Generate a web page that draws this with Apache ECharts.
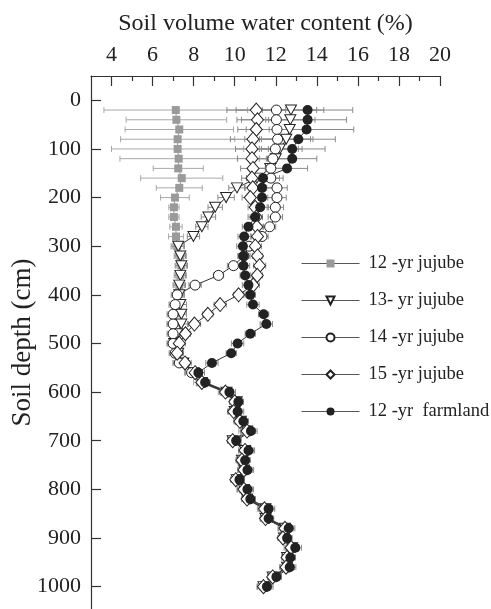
<!DOCTYPE html>
<html><head><meta charset="utf-8">
<script src="https://cdn.jsdelivr.net/npm/echarts@6/dist/echarts.min.js"></script>
<style>html,body{margin:0;padding:0;background:#fff}#c{width:491px;height:609px}</style>
</head><body><div id="c"></div>
<script>
// Soil depth (cm) of each sample
const depths = [20,40,60,80,100,120,140,160,180,200,220,240,260,280,300,320,340,360,380,400,
  420,440,460,480,500,520,540,560,580,600,620,640,660,680,700,720,740,760,780,800,
  820,840,860,880,900,920,940,960,980,1000];
const xTickLabels = [4,6,8,10,12,14,16,18,20];
const xMinorTicks = [5,7,9,11,13,15,17,19];
const yTickLabels = [0,100,200,300,400,500,600,700,800,900,1000];
const seriesNames = ['12 -yr jujube','13- yr jujube','14 -yr jujube','15 -yr jujube','12 -yr  farmland'];

// Soil volume water content (%)
const jujube12 = [7.13,7.16,7.30,7.22,7.22,7.27,7.25,7.42,7.30,7.09,7.04,7.04,7.14,7.14,7.20,7.35,7.40,7.35,7.30,7.20,
  7.10,7.00,7.00,7.00,7.00,7.10,7.30,7.90,8.30,9.50,10.00,10.00,10.20,10.50,10.00,10.50,10.30,10.50,10.10,10.40,
  10.60,11.40,11.50,12.40,12.40,12.70,12.60,12.50,11.90,11.40];
const jujube13 = [12.74,12.71,12.68,12.51,12.20,12.00,11.73,11.08,10.11,9.58,9.05,8.72,8.40,7.99,7.25,7.35,7.40,7.35,7.30,7.30,
  7.35,7.40,7.40,7.20,7.05,7.25,7.50,8.00,8.40,9.60,10.10,10.00,10.30,10.60,9.90,10.50,10.35,10.45,10.10,10.45,
  10.60,11.50,11.50,12.45,12.40,12.80,12.55,12.55,11.85,11.40];
const jujube14 = [12.03,12.03,12.06,12.09,11.98,11.86,11.76,11.76,12.06,12.06,11.98,11.98,11.70,11.33,10.70,10.45,9.94,9.21,8.07,7.20,
  7.10,7.00,7.00,7.00,7.00,7.10,7.30,7.90,8.50,9.65,10.10,10.05,10.35,10.70,10.00,10.60,10.45,10.55,10.15,10.55,
  10.70,11.55,11.60,12.55,12.50,12.85,12.65,12.60,11.95,11.50];
const jujube15 = [11.05,11.11,11.05,10.89,10.84,10.84,10.89,10.84,10.88,10.76,11.00,11.05,11.08,11.11,11.00,11.11,11.21,11.10,10.90,10.19,
  9.29,8.69,8.04,7.60,7.30,7.20,7.58,8.07,8.40,9.55,10.00,9.95,10.25,10.60,9.90,10.50,10.35,10.45,10.05,10.45,
  10.60,11.45,11.50,12.45,12.35,12.75,12.55,12.50,11.85,11.40];
const farmland12 = [13.55,13.55,13.50,13.10,12.80,12.80,12.55,11.38,11.33,11.33,11.24,11.00,10.67,10.46,10.40,10.43,10.43,10.51,10.67,10.76,
  10.89,11.41,11.54,10.76,10.14,9.83,8.89,8.23,8.56,9.74,10.18,10.14,10.42,10.79,10.07,10.67,10.51,10.62,10.23,10.62,
  10.76,11.65,11.65,12.63,12.55,12.95,12.71,12.68,12.03,11.57];

// Standard deviations (error bars)
const errJujube12 = [3.50,2.45,2.64,2.78,3.22,2.86,1.22,2.00,1.12,0.70,0.25,0.25,0.30,0.36,0.30,0.30,0.25,0.30,0.25,0.30,
  0.25,0.30,0.25,0.30,0.25,0.30,0.30,0.35,0.30,0.30,0.25,0.30,0.25,0.30,0.25,0.30,0.25,0.30,0.25,0.30,
  0.25,0.30,0.25,0.30,0.25,0.30,0.25,0.30,0.25,0.30];
const errJujube13 = [1.60,1.20,1.00,1.30,0.90,0.80,0.70,0.50,0.40,0.40,0.35,0.35,0.30,0.30,0.30,0.25,0.30,0.25,0.30,0.25,
  0.30,0.25,0.30,0.25,0.30,0.25,0.30,0.30,0.25,0.30,0.25,0.30,0.25,0.30,0.25,0.30,0.25,0.30,0.25,0.30,
  0.25,0.30,0.25,0.30,0.25,0.30,0.25,0.30,0.25,0.30];
const errJujube14 = [1.96,1.70,1.50,1.60,1.30,1.10,0.90,0.60,0.50,0.45,0.40,0.35,0.30,0.30,0.30,0.30,0.30,0.25,0.30,0.25,
  0.30,0.25,0.30,0.25,0.30,0.25,0.30,0.30,0.25,0.30,0.25,0.30,0.25,0.30,0.25,0.30,0.25,0.30,0.25,0.30,
  0.25,0.30,0.25,0.30,0.25,0.30,0.25,0.30,0.25,0.30];
const errJujube15 = [1.43,1.00,0.90,1.10,0.80,0.70,0.60,0.50,0.40,0.40,0.35,0.30,0.30,0.30,0.30,0.25,0.30,0.25,0.30,0.25,
  0.30,0.25,0.30,0.25,0.30,0.25,0.30,0.30,0.25,0.30,0.25,0.30,0.25,0.30,0.25,0.30,0.25,0.30,0.25,0.30,
  0.25,0.30,0.25,0.30,0.25,0.30,0.25,0.30,0.25,0.30];
const errFarmland12 = [2.20,1.90,2.30,1.80,1.60,1.20,1.00,0.80,0.60,0.50,0.40,0.35,0.30,0.30,0.30,0.25,0.30,0.25,0.30,0.25,
  0.30,0.25,0.30,0.25,0.30,0.25,0.30,0.30,0.25,0.30,0.25,0.30,0.25,0.30,0.25,0.30,0.25,0.30,0.25,0.30,
  0.25,0.30,0.25,0.30,0.25,0.30,0.25,0.30,0.25,0.30];

const FONT = 'Liberation Serif';
const chart = echarts.init(document.getElementById('c'), null, {renderer: 'canvas'});

function pts(vals) { return vals.map((v, i) => [v, depths[i]]); }
function errSeries(vals, errs, color) {
  return {
    type: 'custom', silent: true, z: 1,
    data: vals.map((v, i) => [v, depths[i], errs[i]]),
    encode: {x: 0, y: 1},
    renderItem: function (params, api) {
      const x = api.value(0), y = api.value(1), e = api.value(2);
      const a = api.coord([x - e, y]), b = api.coord([x + e, y]);
      const h = 3;
      const st = {stroke: color, lineWidth: 1};
      return {type: 'group', children: [
        {type: 'line', shape: {x1: a[0], y1: a[1], x2: b[0], y2: b[1]}, style: st},
        {type: 'line', shape: {x1: a[0], y1: a[1] - h, x2: a[0], y2: a[1] + h}, style: st},
        {type: 'line', shape: {x1: b[0], y1: b[1] - h, x2: b[0], y2: b[1] + h}, style: st}
      ]};
    }
  };
}
function lineSeries(name, vals, symbol, size, rotate, fill, stroke, lineColor) {
  return {
    name: name, type: 'line', z: 3, data: pts(vals), showAllSymbol: true,
    symbol: symbol, symbolSize: size, symbolRotate: rotate,
    itemStyle: {color: fill, borderColor: stroke, borderWidth: stroke ? 1 : 0, opacity: 1},
    lineStyle: {color: lineColor, width: 1},
    emphasis: {disabled: true}
  };
}

const axisCol = '#333';
chart.setOption({
  animation: false,
  backgroundColor: '#fff',
  grid: {left: 91, right: 51, top: 76, bottom: 0, containLabel: false, outerBoundsMode: 'none'},
  xAxis: [{
    type: 'value', position: 'top', min: 3, max: 20,
    axisLine: {show: true, onZero: false, lineStyle: {color: axisCol, width: 1.2}},
    axisTick: {show: true, inside: true, length: 10, customValues: xTickLabels, lineStyle: {color: axisCol, width: 1.2}},
    axisLabel: {customValues: xTickLabels, fontFamily: FONT, fontSize: 22, color: '#222', margin: 10,
      formatter: v => String(v)},
    splitLine: {show: false},
    name: 'Soil volume water content (%)', nameLocation: 'middle', nameGap: 40, nameMoveOverlap: false,
    nameTextStyle: {fontFamily: FONT, fontSize: 24, color: '#222'}
  }, {
    type: 'value', position: 'top', min: 3, max: 20,
    axisLine: {show: false, onZero: false},
    axisTick: {show: true, inside: true, length: 5, customValues: xMinorTicks, lineStyle: {color: axisCol, width: 1.2}},
    axisLabel: {show: false}, splitLine: {show: false}
  }],
  yAxis: {
    type: 'value', inverse: true, min: -50, max: 1046,
    axisLine: {show: true, onZero: false, lineStyle: {color: axisCol, width: 1.2}},
    axisTick: {show: true, inside: true, length: 10, customValues: yTickLabels, lineStyle: {color: axisCol, width: 1.2}},
    axisLabel: {customValues: yTickLabels, fontFamily: FONT, fontSize: 22, color: '#222', margin: 10,
      formatter: v => String(v)},
    splitLine: {show: false},
    name: 'Soil depth (cm)', nameLocation: 'middle', nameGap: 55, nameRotate: 90, nameMoveOverlap: false,
    nameTextStyle: {fontFamily: FONT, fontSize: 27, color: '#222'}
  },
  legend: {
    orient: 'vertical', left: 301, top: 254, padding: 0, itemWidth: 58, itemHeight: 10, itemGap: 18,
    selectedMode: false, data: seriesNames,
    textStyle: {fontFamily: FONT, fontSize: 18.5, color: '#222', padding: [0, 0, 0, 4]},
    lineStyle: {color: '#555', width: 1, type: 'solid'}
  },
  series: [
    errSeries(jujube12, errJujube12, '#a8a8a8'),
    errSeries(jujube13, errJujube13, '#8a8a8a'),
    errSeries(jujube14, errJujube14, '#8a8a8a'),
    errSeries(jujube15, errJujube15, '#8a8a8a'),
    errSeries(farmland12, errFarmland12, '#8a8a8a'),
    lineSeries(seriesNames[0], jujube12, 'rect', 8, 0, '#9a9a9a', null, '#999'),
    lineSeries(seriesNames[1], jujube13, 'triangle', [11, 10], 180, '#fff', '#222', '#333'),
    lineSeries(seriesNames[2], jujube14, 'circle', 10, 0, '#fff', '#222', '#333'),
    lineSeries(seriesNames[3], jujube15, 'diamond', [12, 14], 0, '#fff', '#222', '#333'),
    lineSeries(seriesNames[4], farmland12, 'circle', 10, 0, '#222', null, '#333')
  ]
});
</script>
</body></html>
